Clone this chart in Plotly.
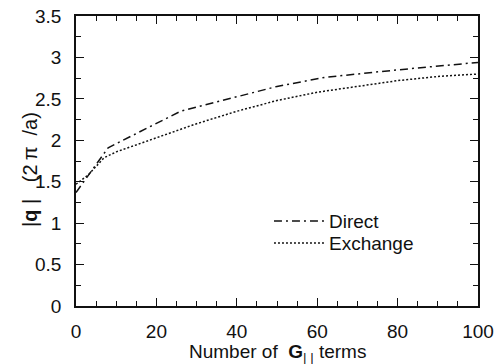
import plotly.graph_objects as go

# Data
direct_x = [0, 3, 8, 26, 40, 50, 62, 80, 100]
direct_y = [1.37, 1.57, 1.91, 2.35, 2.53, 2.65, 2.76, 2.85, 2.94]

exchange_x = [0, 3, 7, 10, 20, 30, 40, 50, 60, 70, 80, 90, 100]
exchange_y = [1.47, 1.58, 1.79, 1.86, 2.03, 2.20, 2.35, 2.48, 2.58, 2.65, 2.72, 2.77, 2.80]

x_ticks = [0, 20, 40, 60, 80, 100]
y_ticks = [0, 0.5, 1, 1.5, 2, 2.5, 3, 3.5]
y_tick_labels = ["0", "0.5", "1", "1.5", "2", "2.5", "3", "3.5"]

FONT = "Liberation Sans, Arial, Helvetica, sans-serif"
INK = "#111111"
FS = 19
NB = "\u00a0"
TS = "\u2009"

fig = go.Figure()
fig.add_trace(go.Scatter(
    x=direct_x, y=direct_y, mode="lines", name="Direct", legend="legend",
    line=dict(color=INK, width=1.5, dash="8px,4px,2px,4px"),
))
fig.add_trace(go.Scatter(
    x=exchange_x, y=exchange_y, mode="lines", name="Exchange", legend="legend2",
    line=dict(color=INK, width=1.5, dash="2px,2px"),
))

axis_common = dict(
    showline=True, linecolor=INK, linewidth=1.8, mirror="ticks",
    ticks="inside", ticklen=8, tickwidth=1.3, tickcolor=INK,
    showgrid=False, zeroline=False, automargin=False,
    tickfont=dict(family=FONT, size=FS, color=INK),
)

legend_common = dict(
    xanchor="left", yanchor="middle",
    bgcolor="rgba(0,0,0,0)", borderwidth=0,
    font=dict(family=FONT, size=FS, color=INK),
    itemwidth=50,
)

y_title = f"|<b>q</b>{NB}|{NB}{NB}{NB}(2{TS}π{NB}{NB}/a)"
x_title = f"Number of{NB}{NB}<b>G</b><sub>|{NB}|</sub>{NB}terms"

fig.update_layout(
    width=495, height=364,
    margin=dict(l=76, r=17, t=16, b=58),
    paper_bgcolor="white", plot_bgcolor="white",
    font=dict(family=FONT, size=FS, color=INK),
    xaxis=dict(
        range=[0, 100], tickvals=x_ticks, ticklabelstandoff=7,
        minor=dict(ticks="inside", dtick=5, tick0=0, ticklen=5, tickwidth=1.1, tickcolor=INK),
        **axis_common,
    ),
    yaxis=dict(
        range=[0, 3.5], tickvals=y_ticks, ticktext=y_tick_labels, ticklabelstandoff=9,
        minor=dict(ticks="inside", dtick=0.25, tick0=0, ticklen=5, tickwidth=1.1, tickcolor=INK),
        **axis_common,
    ),
    annotations=[
        dict(
            text=y_title, textangle=-90, showarrow=False,
            xref="paper", yref="paper", x=-0.1144, y=0.469,
            xanchor="center", yanchor="middle",
            font=dict(family=FONT, size=20, color=INK),
        ),
        dict(
            text=x_title, showarrow=False,
            xref="paper", yref="paper", x=0.5, y=-47 / 290,
            xanchor="center", yanchor="middle",
            font=dict(family=FONT, size=FS, color=INK),
        ),
    ],
    showlegend=True,
    legend=dict(x=0.48, y=0.293, **legend_common),
    legend2=dict(x=0.48, y=0.217, **legend_common),
)

fig.write_html("out.html")
